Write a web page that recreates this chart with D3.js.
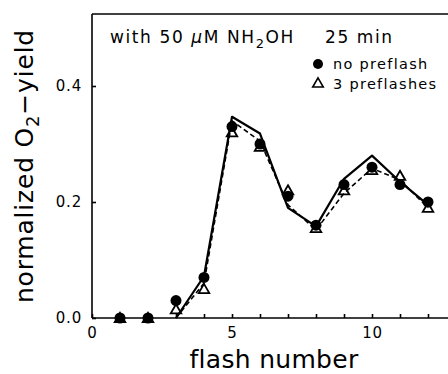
<!DOCTYPE html>
<html>
<head>
<meta charset="utf-8">
<script src="https://cdn.jsdelivr.net/npm/d3@7"></script>
<style>
  body { margin: 0; background: #fff; }
  svg { display: block; font-family: "DejaVu Sans", sans-serif; }
</style>
</head>
<body>
<div id="chart"></div>
<script>
// measured points
const flashes = [1, 2, 3, 4, 5, 6, 7, 8, 9, 10, 11, 12];
const noPreflash = [0, 0, 0.03, 0.07, 0.33, 0.30, 0.21, 0.16, 0.23, 0.26, 0.23, 0.20];
const threePreflashes = [0, 0, 0.015, 0.05, 0.32, 0.295, 0.22, 0.155, 0.22, 0.255, 0.245, 0.19];

// fitted curves
const fitFlashes = [3, 4, 5, 6, 7, 8, 9, 10, 11, 12];
const fitNoPreflash = [0, 0.072, 0.347, 0.318, 0.19, 0.158, 0.24, 0.28, 0.235, 0.195];
const fitThreePreflashes = [0, 0.06, 0.34, 0.305, 0.195, 0.152, 0.215, 0.258, 0.238, 0.19];

const xTicks = d3.range(0, 13);
const xLabels = [0, 5, 10];
const yTicks = [0, 0.2, 0.4];

const W = 448, H = 374;
const plotLeft = 92, plotTop = 14, plotBottom = 318;

const svg = d3.select("#chart").append("svg")
  .attr("width", W).attr("height", H);

const x = d3.scaleLinear().domain([0, 12]).range([plotLeft, plotLeft + 28 * 12]);
const y = d3.scaleLinear().domain([0, 0.4]).range([plotBottom, 86]);

// frame: top line + left axis
svg.append("line")
  .attr("x1", plotLeft).attr("x2", W).attr("y1", plotTop).attr("y2", plotTop)
  .attr("stroke", "#000").attr("stroke-width", 1.6);

const xAxis = svg.append("g")
  .attr("transform", "translate(0," + plotBottom + ")")
  .call(d3.axisBottom(x).tickValues(xTicks).tickSizeInner(-4).tickSizeOuter(0)
    .tickPadding(9)
    .tickFormat(d => xLabels.includes(d) ? d : ""));
xAxis.select(".domain").attr("d", "M" + plotLeft + ",0H" + W);

const yAxis = svg.append("g")
  .attr("transform", "translate(" + plotLeft + ",0)")
  .call(d3.axisLeft(y).tickValues(yTicks).tickSizeInner(-4).tickSizeOuter(0)
    .tickPadding(10)
    .tickFormat(d3.format(".1f")));
yAxis.select(".domain").attr("d", "M0," + plotTop + "V" + plotBottom);

svg.selectAll(".domain, .tick line").attr("stroke", "#000").attr("stroke-width", 1.6);
svg.selectAll(".tick text").attr("font-size", 15).attr("fill", "#000")
  .attr("letter-spacing", 0.8)
  .attr("font-family", "DejaVu Sans, sans-serif");

// curves
const line = d3.line().x(d => x(d[0])).y(d => y(d[1]));
svg.append("path")
  .attr("d", line(fitFlashes.map((f, i) => [f, fitNoPreflash[i]])))
  .attr("fill", "none").attr("stroke", "#000").attr("stroke-width", 2.2)
  .attr("stroke-linejoin", "round");
svg.append("path")
  .attr("d", line(fitFlashes.map((f, i) => [f, fitThreePreflashes[i]])))
  .attr("fill", "none").attr("stroke", "#000").attr("stroke-width", 1.6)
  .attr("stroke-dasharray", "5,3");

// points
svg.append("g").selectAll("circle")
  .data(flashes.map((f, i) => [f, noPreflash[i]]))
  .join("circle")
  .attr("cx", d => x(d[0])).attr("cy", d => y(d[1])).attr("r", 5.5)
  .attr("fill", "#000");

const tri = d3.symbol().type(d3.symbolTriangle).size(48);
svg.append("g").selectAll("path")
  .data(flashes.map((f, i) => [f, threePreflashes[i]]))
  .join("path")
  .attr("d", tri)
  .attr("transform", d => "translate(" + x(d[0]) + "," + (y(d[1]) + 1) + ")")
  .attr("fill", "none").attr("stroke", "#000").attr("stroke-width", 1.8);

// annotation
const title = svg.append("text").attr("x", 110).attr("y", 43)
  .attr("font-size", 17).attr("letter-spacing", 1.6).attr("fill", "#000");
title.append("tspan").text("with 50 ");
title.append("tspan").attr("font-style", "italic").text("\u03bc");
title.append("tspan").text("M NH");
title.append("tspan").attr("font-size", 13).attr("dy", 5).text("2");
title.append("tspan").attr("dy", -5).text("OH");
svg.append("text").attr("x", 325).attr("y", 43)
  .attr("font-size", 17).attr("letter-spacing", 1.6).attr("fill", "#000").text("25 min");

// legend
svg.append("circle").attr("cx", 318).attr("cy", 64).attr("r", 5).attr("fill", "#000");
svg.append("text").attr("x", 333).attr("y", 69).attr("font-size", 14.5)
  .attr("letter-spacing", 1.3).attr("fill", "#000").text("no preflash");
svg.append("path").attr("d", tri)
  .attr("transform", "translate(318,84)")
  .attr("fill", "none").attr("stroke", "#000").attr("stroke-width", 1.6);
svg.append("text").attr("x", 333).attr("y", 89).attr("font-size", 14.5)
  .attr("letter-spacing", 1.3).attr("fill", "#000").text("3 preflashes");

// axis titles
svg.append("text").attr("x", 274).attr("y", 368)
  .attr("text-anchor", "middle").attr("font-size", 25).attr("letter-spacing", 0.3)
  .attr("fill", "#000").text("flash number");

const yl = svg.append("text")
  .attr("transform", "translate(33,166) rotate(-90)")
  .attr("text-anchor", "middle").attr("font-size", 25).attr("letter-spacing", 0.8)
  .attr("fill", "#000");
yl.append("tspan").text("normalized O");
yl.append("tspan").attr("font-size", 18).attr("dy", 6).text("2");
yl.append("tspan").attr("dy", -6).text("\u2212yield");
</script>
</body>
</html>
